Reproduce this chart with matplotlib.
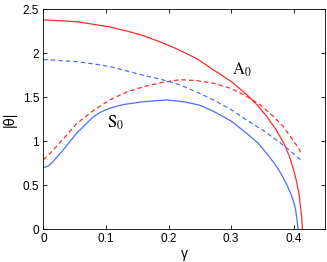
import matplotlib
matplotlib.use("Agg")
import matplotlib.pyplot as plt
import numpy as np

# values
# A0 branch (red, solid)
gamma_a0 = [0, 0.053, 0.106, 0.135, 0.16, 0.19, 0.213, 0.245, 0.272, 0.30, 0.325, 0.342, 0.357,
            0.371, 0.384, 0.393, 0.40, 0.405, 0.409, 0.412, 0.414]
theta_a0 = [2.38, 2.36, 2.30, 2.25, 2.20, 2.12, 2.05, 1.94, 1.81, 1.68, 1.53, 1.41, 1.28,
            1.14, 0.98, 0.83, 0.67, 0.53, 0.37, 0.18, 0.0]

# S0 branch (blue, solid)
gamma_s0 = [0, 0.008, 0.0155, 0.0315, 0.053, 0.08, 0.094, 0.106, 0.118, 0.13, 0.16, 0.197,
            0.224, 0.25, 0.272, 0.30, 0.325, 0.343, 0.357, 0.369, 0.379, 0.388,
            0.395, 0.400, 0.403, 0.405, 0.407]
theta_s0 = [0.70, 0.72, 0.77, 0.90, 1.09, 1.28, 1.34, 1.375, 1.40, 1.42, 1.45, 1.47,
            1.45, 1.41, 1.34, 1.23, 1.09, 0.98, 0.86, 0.75, 0.64, 0.52,
            0.41, 0.31, 0.22, 0.12, 0.0]

# red dashed
gamma_rd = [0, 0.013, 0.026, 0.053, 0.08, 0.106, 0.133, 0.16, 0.19, 0.219,
            0.245, 0.272, 0.30, 0.325, 0.347, 0.368, 0.383, 0.395, 0.404, 0.411]
theta_rd = [0.79, 0.88, 0.98, 1.20, 1.35, 1.47, 1.56, 1.62, 1.67, 1.70,
            1.69, 1.66, 1.60, 1.51, 1.41, 1.28, 1.17, 1.05, 0.96, 0.88]

# blue dashed
gamma_bd = [0, 0.053, 0.08, 0.106, 0.133, 0.16, 0.19, 0.219, 0.245, 0.272,
            0.30, 0.325, 0.352, 0.379, 0.396, 0.411]
theta_bd = [1.93, 1.905, 1.88, 1.85, 1.80, 1.75, 1.70, 1.64, 1.56, 1.47,
            1.36, 1.24, 1.12, 0.98, 0.88, 0.79]

red = "#ff2a2a"
blue = "#4d6dff"

plt.rcParams['font.family'] = ['Liberation Sans', 'DejaVu Sans']
plt.rcParams['mathtext.fontset'] = 'stix'
plt.rcParams['lines.scale_dashes'] = False

fig = plt.figure(figsize=(3.27, 2.62), dpi=100)
ax = fig.add_axes([0.1325, 0.1248, 0.994 - 0.1325, 0.9645 - 0.1248])

ax.plot(gamma_a0, theta_a0, color=red, lw=0.9)
ax.plot(gamma_s0, theta_s0, color=blue, lw=0.9)
ax.plot(gamma_rd, theta_rd, color=red, lw=0.9, dashes=(3.2, 2.2))
ax.plot(gamma_bd, theta_bd, color=blue, lw=0.9, dashes=(3.2, 2.2))

ax.text(0.301, 1.81, r'$\mathrm{A}_0$', fontsize=12, va='center', ha='left')
ax.text(0.102, 1.21, r'$\mathrm{S}_0$', fontsize=12, va='center', ha='left')

ax.set_xlim(0, 0.45)
ax.set_ylim(0, 2.5)
ax.set_xticks([0, 0.1, 0.2, 0.3, 0.4])
ax.set_xticklabels(['0', '0.1', '0.2', '0.3', '0.4'])
ax.set_yticks([0, 0.5, 1, 1.5, 2, 2.5])
ax.set_yticklabels(['0', '0.5', '1', '1.5', '2', '2.5'])
ax.tick_params(direction='in', length=3, width=0.6, top=True, right=True,
               labelsize=8.5, pad=3)
for s in ax.spines.values():
    s.set_linewidth(0.6)

ax.set_xlabel('γ', fontsize=10, labelpad=1)
ax.set_ylabel('|θ|', fontsize=10.5, labelpad=4)

fig.savefig("out.png", dpi=100)
